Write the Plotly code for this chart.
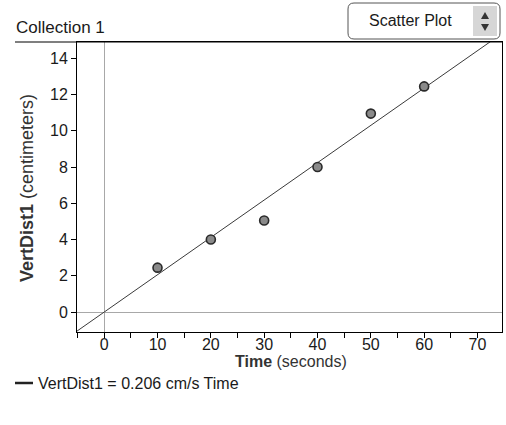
import plotly.graph_objects as go

# Collection 1: vertical distance measured over time
time_s = [10, 20, 30, 40, 50, 60]
vert_dist_cm = [2.45, 4.0, 5.05, 8.0, 10.95, 12.45]

slope = 0.206  # cm/s, fitted line through the origin
x_range = [-5.1, 74.6]
y_range = [-1.1, 14.9]

fit_x = [x_range[0], 80]
fit_y = [slope * v for v in fit_x]

W, H = 506, 425
L, R, T, B = 77, 4, 42, 93
PW, PH = W - L - R, H - T - B


def px_x(p):
    return (p - L) / PW


def px_y(p):
    return 1 - (p - T) / PH


FONT = "Liberation Sans, Arial, sans-serif"
INK = "#1a1a1a"

fig = go.Figure()
fig.add_trace(go.Scatter(
    x=fit_x, y=fit_y, mode="lines",
    line=dict(color="#3a3a3a", width=1),
    hoverinfo="skip", showlegend=False,
))
fig.add_trace(go.Scatter(
    x=time_s, y=vert_dist_cm, mode="markers",
    marker=dict(size=9, color="#8a8a8a", line=dict(color="#2a2a2a", width=1.6)),
    showlegend=False,
))

axis_common = dict(
    showgrid=False, showline=True, linecolor="black", linewidth=1, mirror=True,
    ticks="outside", ticklen=5, tickcolor="black",
    zeroline=True, zerolinecolor="#a8a8a8", zerolinewidth=1,
    tickfont=dict(family=FONT, size=16, color=INK),
)

fig.update_xaxes(
    range=x_range, tick0=0, dtick=10, ticklabelstandoff=-7,
    minor=dict(dtick=5, tick0=0, ticks="outside", ticklen=5, tickcolor="black"),
    **axis_common,
)
fig.update_yaxes(range=y_range, tick0=0, dtick=2, **axis_common)

shapes = [
    # frame top edge runs out past the y axis
    dict(type="line", xref="paper", yref="paper",
         x0=px_x(15), x1=1, y0=1, y1=1, line=dict(color="black", width=1.2)),
    # legend swatch
    dict(type="line", xref="paper", yref="paper",
         x0=px_x(15), x1=px_x(33), y0=px_y(383), y1=px_y(383),
         line=dict(color="#222", width=2.5)),
    # display selector box
    dict(type="path", xref="paper", yref="paper",
         path=(f"M {px_x(354)},{px_y(3)} L {px_x(494)},{px_y(3)} "
               f"Q {px_x(500)},{px_y(3)} {px_x(500)},{px_y(9)} "
               f"L {px_x(500)},{px_y(33)} Q {px_x(500)},{px_y(39)} {px_x(494)},{px_y(39)} "
               f"L {px_x(354)},{px_y(39)} Q {px_x(348)},{px_y(39)} {px_x(348)},{px_y(33)} "
               f"L {px_x(348)},{px_y(9)} Q {px_x(348)},{px_y(3)} {px_x(354)},{px_y(3)} Z"),
         fillcolor="white", line=dict(color="#555", width=1)),
    dict(type="rect", xref="paper", yref="paper",
         x0=px_x(473), x1=px_x(497), y0=px_y(6), y1=px_y(36),
         fillcolor="#d6d6d6", line=dict(width=0)),
    dict(type="path", xref="paper", yref="paper",
         path=(f"M {px_x(481)},{px_y(19)} L {px_x(489)},{px_y(19)} "
               f"L {px_x(485)},{px_y(12)} Z"),
         fillcolor="#333", line=dict(width=0)),
    dict(type="path", xref="paper", yref="paper",
         path=(f"M {px_x(481)},{px_y(24)} L {px_x(489)},{px_y(24)} "
               f"L {px_x(485)},{px_y(31)} Z"),
         fillcolor="#333", line=dict(width=0)),
]

annotations = [
    dict(text="Collection 1", xref="paper", yref="paper", x=px_x(14), y=px_y(27),
         xanchor="left", yanchor="middle", showarrow=False,
         font=dict(family=FONT, size=17, color=INK)),
    dict(text="Scatter Plot", xref="paper", yref="paper", x=px_x(410), y=px_y(20),
         xanchor="center", yanchor="middle", showarrow=False,
         font=dict(family=FONT, size=16, color=INK)),
    dict(text="<b>VertDist1</b> (centimeters)", xref="paper", yref="paper",
         x=px_x(27), y=px_y(188), xanchor="center", yanchor="middle",
         textangle=-90, showarrow=False,
         font=dict(family=FONT, size=18, color="#333")),
    dict(text="<b>Time</b> (seconds)", xref="paper", yref="paper",
         x=px_x(291), y=px_y(361), xanchor="center", yanchor="middle",
         showarrow=False, font=dict(family=FONT, size=16, color="#333")),
    dict(text="VertDist1 = 0.206 cm/s Time", xref="paper", yref="paper",
         x=px_x(36), y=px_y(383), xanchor="left", yanchor="middle",
         showarrow=False, font=dict(family=FONT, size=16, color=INK)),
]

fig.update_layout(
    width=W, height=H,
    margin=dict(l=L, r=R, t=T, b=B),
    paper_bgcolor="white", plot_bgcolor="white",
    shapes=shapes, annotations=annotations,
    showlegend=False,
)

fig.write_html("out.html", config={"displayModeBar": False})
